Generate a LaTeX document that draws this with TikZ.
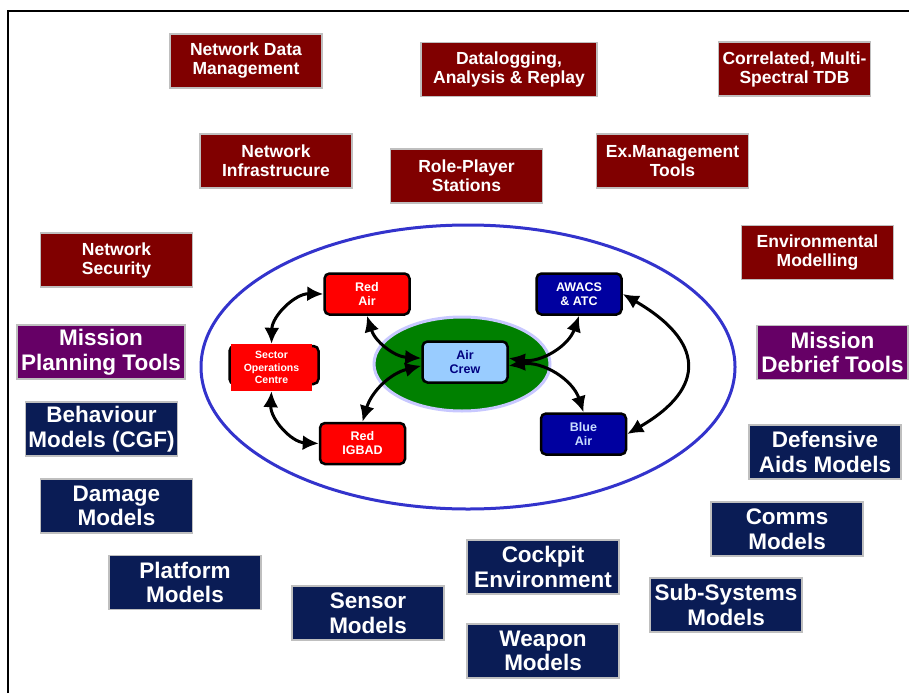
\documentclass[tikz,border=0pt]{standalone}
\usepackage{fontspec}
\setmainfont{Liberation Sans}
\usetikzlibrary{arrows.meta}
\definecolor{maroonbox}{RGB}{128,0,0}
\definecolor{navybox}{RGB}{10,28,85}
\definecolor{plumbox}{RGB}{102,0,102}
\definecolor{redbox}{RGB}{255,0,0}
\definecolor{bluebox}{RGB}{0,0,160}
\definecolor{bluetext}{RGB}{200,220,255}
\definecolor{crewbox}{RGB}{153,204,255}
\definecolor{crewtext}{RGB}{0,0,128}
\definecolor{greenzone}{RGB}{0,128,0}
\definecolor{greenrim}{RGB}{200,200,255}
\definecolor{bluering}{RGB}{51,51,204}
\tikzset{
    outer/.style={rectangle,draw=black!25,line width=1.2pt,text=white,align=center,inner sep=0pt,minimum width=152pt,minimum height=54pt},
    netbox/.style={outer,fill=maroonbox,font=\fontsize{17.5}{19}\selectfont\bfseries},
    modelbox/.style={outer,fill=navybox,font=\fontsize{22.5}{24.5}\selectfont\bfseries},
    toolbox/.style={outer,fill=plumbox,font=\fontsize{22.5}{24.5}\selectfont\bfseries},
    unit/.style={rectangle,rounded corners=5pt,draw=black,line width=2.5pt,align=center,inner sep=0pt,minimum width=85pt,minimum height=41pt,font=\fontsize{12.5}{14}\selectfont\bfseries},
    biarrow/.style={line width=3pt,{Latex[length=16pt,width=15pt]}-{Latex[length=16pt,width=15pt]}},
  }
\begin{document}
\begin{tikzpicture}[x=1pt,y=1pt]
				  \useasboundingbox (0,0) rectangle (909,-693);
				  %FRAME
				  \draw[line width=2pt] (8,-693) -- (8,-11) -- (909,-11);
				  
				  %NETWORK AND EXERCISE BOXES
				  \node[netbox] (ndm) at (246,-61) {Network Data\\Management};
				  \node[netbox,minimum width=176pt] (dar) at (509,-69.5) {Datalogging,\\Analysis \& Replay};
				  \node[netbox] (tdb) at (794.5,-69) {Correlated, Multi-\\Spectral TDB};
				  \node[netbox] (ni) at (276,-161) {Network\\Infrastrucure};
				  \node[netbox] (rps) at (466.5,-176) {Role-Player\\Stations};
				  \node[netbox] (emt) at (672.5,-161) {Ex.Management\\Tools};
				  \node[netbox] (ns) at (116.5,-260) {Network\\Security};
				  \node[netbox] (env) at (817.5,-252.5) {Environmental\\Modelling};
				  
				  %TOOLS
				  \node[toolbox,minimum width=168pt] (mpt) at (101,-352) {Mission\\Planning Tools};
				  \node[toolbox,minimum width=151pt] (mdt) at (832.5,-352.5) {Mission\\Debrief Tools};
				  
				  %MODELS
				  \node[modelbox] (bm) at (101.5,-429) {Behaviour\\Models (CGF)};
				  \node[modelbox] (dam) at (825,-452) {Defensive\\Aids Models};
				  \node[modelbox] (dm) at (116.5,-506) {Damage\\Models};
				  \node[modelbox] (cm) at (787,-529) {Comms\\Models};
				  \node[modelbox] (pm) at (185,-582.5) {Platform\\Models};
				  \node[modelbox] (ce) at (543,-567) {Cockpit\\Environment};
				  \node[modelbox] (ssm) at (726,-605) {Sub-Systems\\Models};
				  \node[modelbox] (sm) at (368,-613) {Sensor\\Models};
				  \node[modelbox] (wm) at (543,-651) {Weapon\\Models};
				  
				  %ELLIPSES
				  \draw[bluering,line width=3pt] (468,-367) ellipse [x radius=267,y radius=142];
				  \draw[greenrim,line width=3pt,fill=greenzone] (462,-364) ellipse [x radius=88,y radius=47];
				  
				  %UNITS
				  \node[unit,fill=redbox,text=white] (redair) at (367,-294) {Red\\Air};
				  \node[unit,fill=bluebox,text=white] (awacs) at (579,-294) {AWACS\\\& ATC};
				  \node[unit,fill=redbox,minimum width=89pt,minimum height=38pt] (socrim) at (274,-365) {};
				  \node[rectangle,fill=redbox,text=white,align=center,inner sep=0pt,minimum width=81pt,minimum height=47pt,font=\fontsize{10.5}{12.5}\selectfont\bfseries] (soc) at (271.5,-367.5) {Sector\\Operations\\Centre};
				  \node[unit,fill=redbox,text=white] (redigbad) at (362.5,-443.5) {Red\\IGBAD};
				  \node[unit,fill=bluebox,text=bluetext] (blueair) at (583.5,-434) {Blue\\Air};
				  \node[unit,fill=crewbox,text=crewtext] (aircrew) at (465,-362) {Air\\Crew};
				  
				  %ARROWS
				  \draw[biarrow] (redair.west) to[bend right=45] (soc.north);
				  \draw[biarrow] (soc.south) to[bend right=45] (redigbad.west);
				  \draw[biarrow] (redair.south) to[bend right=35] (aircrew.175);
				  \draw[biarrow] (aircrew.185) to[bend right=30] (redigbad.north);
				  \draw[biarrow] (aircrew.5) to[bend right=40] (awacs.south);
				  \draw[biarrow] (aircrew.-5) to[bend left=40] (blueair.north);
				  \draw[biarrow] (awacs.east) to[out=-30,in=30,looseness=1.7] (blueair.east);
\end{tikzpicture}
\end{document}
